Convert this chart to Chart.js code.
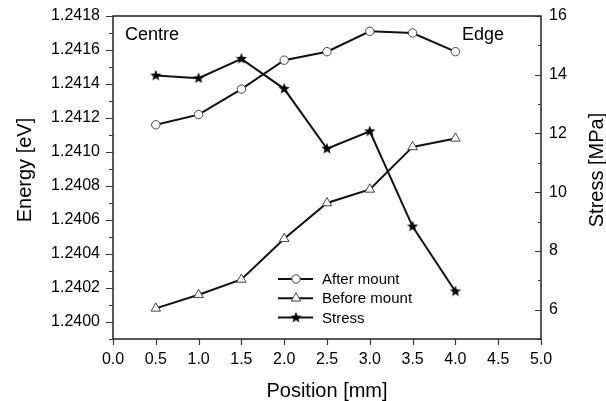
<!DOCTYPE html>
<html>
<head>
<meta charset="utf-8">
<script src="https://cdn.jsdelivr.net/npm/chart.js@4.4.0/dist/chart.umd.min.js"></script>
<style>
html, body { margin: 0; padding: 0; background: #fff; }
</style>
</head>
<body>
<canvas id="energy_chart" width="606" height="401"></canvas>
<script>
// DATA
const positions = [0.5, 1.0, 1.5, 2.0, 2.5, 3.0, 3.5, 4.0];
const after_mount = [1.24116, 1.24122, 1.24137, 1.24154, 1.24159, 1.24171, 1.24170, 1.24159];
const before_mount = [1.24008, 1.24016, 1.24025, 1.24049, 1.24070, 1.24078, 1.24103, 1.24108];
const stress = [13.97, 13.88, 14.54, 13.52, 11.48, 12.07, 8.83, 6.62];

// TICKS
const position_ticks = [0, 0.5, 1.0, 1.5, 2.0, 2.5, 3.0, 3.5, 4.0, 4.5, 5.0];
const energy_ticks = [1.2400, 1.2402, 1.2404, 1.2406, 1.2408, 1.2410, 1.2412, 1.2414, 1.2416, 1.2418];
const energy_minor = [1.2399, 1.2401, 1.2403, 1.2405, 1.2407, 1.2409, 1.2411, 1.2413, 1.2415, 1.2417];
const stress_ticks = [6, 8, 10, 12, 14, 16];
const stress_minor = [5, 7, 9, 11, 13, 15];

const FONT = "'Liberation Sans', Arial, sans-serif";
const ctx = document.getElementById("energy_chart").getContext("2d");

// filled star used as marker for the stress series
function makeStar(r){
	let c = document.createElement("canvas");
	c.width = c.height = Math.ceil(r * 2) + 2;
	let g = c.getContext("2d");
	let cx = c.width / 2, cy = c.height / 2;
	g.beginPath();
	for(let i = 0; i < 10; i++){
		let rad = (i % 2 == 0) ? r : r * 0.42;
		let a = -Math.PI / 2 + i * Math.PI / 5;
		g.lineTo(cx + rad * Math.cos(a), cy + rad * Math.sin(a));
	}
	g.closePath();
	g.fillStyle = "#000";
	g.fill();
	return c;
}
const star = makeStar(6);

function toPoints(list){
	return positions.map((x, i) => ({ x: x, y: list[i] }));
}

// frame + major/minor tick marks
const frame_plugin = {
	id: "frame_plugin",
	beforeDatasetsDraw(chart){
		const { ctx, chartArea: a, scales } = chart;
		ctx.save();
		ctx.strokeStyle = "#222";
		ctx.lineWidth = 1.5;
		ctx.strokeRect(a.left, a.top, a.right - a.left, a.bottom - a.top);

		ctx.lineWidth = 1.2;
		ctx.strokeStyle = "#333";
		ctx.beginPath();
		energy_ticks.forEach(v => {
			let y = Math.round(scales.y.getPixelForValue(v)) + 0.5;
			ctx.moveTo(a.left - 7, y); ctx.lineTo(a.left, y);
		});
		energy_minor.forEach(v => {
			let y = Math.round(scales.y.getPixelForValue(v)) + 0.5;
			ctx.moveTo(a.left - 4, y); ctx.lineTo(a.left, y);
		});
		stress_ticks.forEach(v => {
			let y = Math.round(scales.y1.getPixelForValue(v)) + 0.5;
			ctx.moveTo(a.right - 6, y); ctx.lineTo(a.right, y);
		});
		stress_minor.forEach(v => {
			let y = Math.round(scales.y1.getPixelForValue(v)) + 0.5;
			ctx.moveTo(a.right - 3, y); ctx.lineTo(a.right, y);
		});
		position_ticks.forEach(v => {
			let x = Math.round(scales.x.getPixelForValue(v)) + 0.5;
			ctx.moveTo(x, a.bottom); ctx.lineTo(x, a.bottom + 6);
		});
		ctx.stroke();
		ctx.restore();
	}
};

// labels, y titles and the inline legend
const text_plugin = {
	id: "text_plugin",
	afterDraw(chart){
		const { ctx, chartArea: a } = chart;
		ctx.save();
		ctx.fillStyle = "#000";
		ctx.textBaseline = "alphabetic";
		ctx.font = "18px " + FONT;
		ctx.textAlign = "left";
		ctx.fillText("Centre", a.left + 12, a.top + 24);
		ctx.fillText("Edge", a.right - 79, a.top + 24);

		// y titles, both read bottom to top
		ctx.font = "20px " + FONT;
		ctx.textAlign = "center";
		ctx.textBaseline = "middle";
		ctx.save();
		ctx.translate(25, 170);
		ctx.rotate(-Math.PI / 2);
		ctx.fillText("Energy [eV]", 0, 0);
		ctx.restore();
		ctx.save();
		ctx.translate(597, 170);
		ctx.rotate(-Math.PI / 2);
		ctx.fillText("Stress [MPa]", 0, 0);
		ctx.restore();

		// legend
		const items = chart.data.datasets;
		ctx.font = "15px " + FONT;
		ctx.textAlign = "left";
		items.forEach((ds, i) => {
			let y = 279 + i * 19.3;
			ctx.beginPath();
			ctx.strokeStyle = "#111";
			ctx.lineWidth = 2;
			ctx.moveTo(278, y); ctx.lineTo(313, y);
			ctx.stroke();
			ctx.fillStyle = ds.pointBackgroundColor;
			ctx.strokeStyle = ds.pointBorderColor;
			ctx.lineWidth = ds.pointBorderWidth;
			Chart.helpers.drawPoint(ctx, {
				pointStyle: ds.pointStyle,
				radius: ds.pointRadius,
				rotation: 0,
				borderWidth: ds.pointBorderWidth
			}, 296, y);
			ctx.fillStyle = "#000";
			ctx.fillText(ds.label, 322, y + 1);
		});
		ctx.restore();
	}
};

let my_chart = new Chart(ctx, {
	type: "line",
	data: {
		datasets: [{
			label: "After mount",
			data: toPoints(after_mount),
			yAxisID: "y",
			borderColor: "#111",
			borderWidth: 2,
			pointStyle: "circle",
			pointRadius: 4.2,
			pointBackgroundColor: "#fff",
			pointBorderColor: "#444",
			pointBorderWidth: 1
		},{
			label: "Before mount",
			data: toPoints(before_mount),
			yAxisID: "y",
			borderColor: "#111",
			borderWidth: 2,
			pointStyle: "triangle",
			pointRadius: 5.5,
			pointBackgroundColor: "#fff",
			pointBorderColor: "#444",
			pointBorderWidth: 1
		},{
			label: "Stress",
			data: toPoints(stress),
			yAxisID: "y1",
			borderColor: "#111",
			borderWidth: 2,
			pointStyle: star,
			pointRadius: 6,
			pointBackgroundColor: "#000",
			pointBorderColor: "#000",
			pointBorderWidth: 0
		}]
	},
	options: {
		responsive: false,
		animation: false,
		layout: { padding: { top: 16, left: 0, right: 0, bottom: 0 } },
		plugins: {
			legend: { display: false },
			tooltip: { enabled: false }
		},
		scales: {
			x: {
				type: "linear",
				position: "bottom",
				min: 0,
				max: 5,
				afterBuildTicks: s => { s.ticks = position_ticks.map(v => ({ value: v })); },
				afterFit: s => { s.height = 62; },
				grid: { display: false },
				border: { display: false },
				ticks: {
					color: "#000",
					padding: 3,
					font: { family: FONT, size: 16 },
					callback: v => v.toFixed(1)
				},
				title: {
					display: true,
					text: "Position [mm]",
					color: "#000",
					font: { family: FONT, size: 20 },
					padding: { top: 0, bottom: -2 }
				}
			},
			y: {
				type: "linear",
				position: "left",
				min: 1.2399,
				max: 1.2418,
				afterBuildTicks: s => { s.ticks = energy_ticks.map(v => ({ value: v })); },
				afterFit: s => { s.width = 113; },
				grid: { display: false },
				border: { display: false },
				ticks: {
					color: "#000",
					padding: 5,
					font: { family: FONT, size: 16 },
					callback: v => v.toFixed(4)
				}
			},
			y1: {
				type: "linear",
				position: "right",
				min: 5,
				max: 16,
				afterBuildTicks: s => { s.ticks = stress_ticks.map(v => ({ value: v })); },
				afterFit: s => { s.width = 65; },
				grid: { display: false },
				border: { display: false },
				ticks: {
					color: "#000",
					padding: 0,
					font: { family: FONT, size: 16 },
					callback: v => String(v)
				}
			}
		}
	},
	plugins: [frame_plugin, text_plugin]
});
</script>
</body>
</html>
